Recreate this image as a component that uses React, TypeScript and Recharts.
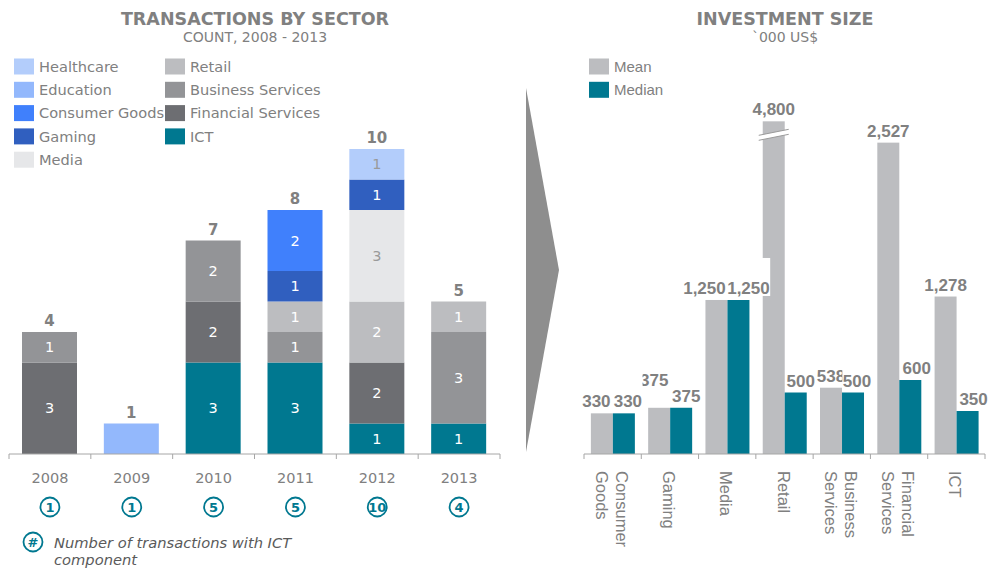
import React from 'react';
import { BarChart, Bar, XAxis, YAxis, LabelList } from 'recharts';

// ---------- LEFT: transactions by sector (count) ----------
const years = ['2008', '2009', '2010', '2011', '2012', '2013'];
const ict = [0, 0, 3, 3, 1, 1];
const financialServices = [3, 0, 2, 0, 2, 0];
const businessServices = [1, 0, 2, 1, 0, 3];
const retail = [0, 0, 0, 1, 2, 1];
const media = [0, 0, 0, 0, 3, 0];
const gaming = [0, 0, 0, 1, 1, 0];
const consumerGoods = [0, 0, 0, 2, 0, 0];
const education = [0, 1, 0, 0, 0, 0];
const healthcare = [0, 0, 0, 0, 1, 0];
const ictTransactionCounts = [1, 1, 5, 5, 10, 4];

// ---------- RIGHT: investment size ('000 US$) ----------
const sectors = ['Consumer Goods', 'Gaming', 'Media', 'Retail', 'Business Services', 'Financial Services', 'ICT'];
const meanSize = [330, 375, 1250, 4800, 538, 2527, 1278];
const medianSize = [330, 375, 1250, 500, 500, 600, 350];
const AXIS_BREAK = 2700; // values above this are drawn with a broken bar

// ---------- styles ----------
const TEAL = '#007890';
const GREY_TEXT = '#808080';
const AXIS = '#a6a6a6';
const VERDANA = '"DejaVu Sans", Verdana, sans-serif';
const ARIAL = '"Liberation Sans", Arial, sans-serif';

type Series = { key: string; name: string; values: number[]; color: string; labelColor: string };
// bottom -> top stacking order
const stackSeries: Series[] = [
  { key: 'ict', name: 'ICT', values: ict, color: '#007890', labelColor: '#ffffff' },
  { key: 'financial', name: 'Financial Services', values: financialServices, color: '#6d6e72', labelColor: '#ffffff' },
  { key: 'business', name: 'Business Services', values: businessServices, color: '#939497', labelColor: '#ffffff' },
  { key: 'retail', name: 'Retail', values: retail, color: '#bcbdc0', labelColor: '#ffffff' },
  { key: 'media', name: 'Media', values: media, color: '#e6e7e9', labelColor: '#9a9a9a' },
  { key: 'gaming', name: 'Gaming', values: gaming, color: '#305fbf', labelColor: '#ffffff' },
  { key: 'consumer', name: 'Consumer Goods', values: consumerGoods, color: '#4080fc', labelColor: '#ffffff' },
  { key: 'education', name: 'Education', values: education, color: '#93b8fc', labelColor: '#ffffff' },
  { key: 'healthcare', name: 'Healthcare', values: healthcare, color: '#b3cdfb', labelColor: '#9a9a9a' },
];

const leftLegendCol1 = ['Healthcare', 'Education', 'Consumer Goods', 'Gaming', 'Media'];
const leftLegendCol2 = ['Retail', 'Business Services', 'Financial Services', 'ICT'];

const leftRows = years.map((year, i) => {
  const row: Record<string, any> = { year };
  stackSeries.forEach((s) => (row[s.key] = s.values[i]));
  return row;
});
const totals = years.map((_, i) => stackSeries.reduce((a, s) => a + s.values[i], 0));
const topSeriesIndex = years.map((_, i) => {
  let top = -1;
  stackSeries.forEach((s, k) => {
    if (s.values[i] > 0) top = k;
  });
  return top;
});

const rightRows = sectors.map((sector, i) => ({ sector, mean: meanSize[i], median: medianSize[i] }));

// layout
const L = { left: 0, width: 510, height: 568, mTop: 149, mLeft: 9, mRight: 10, mBottom: 14, axisH: 100 };
const L_PLOT_W = L.width - L.mLeft - L.mRight;
const R = { left: 570, width: 425, height: 568, mTop: 109, mLeft: 14, mRight: 10, mBottom: 14, axisH: 100 };
const R_PLOT_W = R.width - R.mLeft - R.mRight;

const boxOf = (p: any) => {
  const vb = p.viewBox || {};
  return {
    x: Number(p.x ?? vb.x),
    y: Number(p.y ?? vb.y),
    width: Number(p.width ?? vb.width),
    height: Number(p.height ?? vb.height),
  };
};

// category index from the bar's horizontal position (through the band scale)
const catIndex = (cx: number, left: number, plotW: number, n: number) =>
  Math.max(0, Math.min(n - 1, Math.floor((cx - left) / (plotW / n))));

const makeSegmentLabel = (seriesIdx: number) => (props: any) => {
  const { x, y, width, height } = boxOf(props);
  const cx = x + width / 2;
  const index = catIndex(cx, L.mLeft, L_PLOT_W, years.length);
  const s = stackSeries[seriesIdx];
  const v = s.values[index];
  if (!v) return null;
  const showInner = v !== totals[index];
  const isTop = topSeriesIndex[index] === seriesIdx;
  return (
    <g>
      {showInner && (
        <text x={cx} y={y + height / 2} dy="0.36em" textAnchor="middle" fontFamily={VERDANA} fontSize={14.5} fill={s.labelColor}>
          {v}
        </text>
      )}
      {isTop && (
        <text x={cx} y={y - 11} dy="0.36em" textAnchor="middle" fontFamily={VERDANA} fontWeight="bold" fontSize={15} fill={GREY_TEXT}>
          {totals[index]}
        </text>
      )}
    </g>
  );
};

const YearTick = (props: any) => {
  const { x, y, payload } = props;
  const i = years.indexOf(payload.value);
  const band = L_PLOT_W / years.length;
  return (
    <g>
      <line x1={x - band / 2} x2={x - band / 2} y1={y} y2={y + 5} stroke={AXIS} />
      {i === years.length - 1 && <line x1={x + band / 2} x2={x + band / 2} y1={y} y2={y + 5} stroke={AXIS} />}
      <text x={x} y={y + 24} dy="0.36em" textAnchor="middle" fontFamily={VERDANA} fontSize={14.5} fill={GREY_TEXT}>
        {payload.value}
      </text>
      <circle cx={x} cy={y + 53} r={9.5} fill="#fff" stroke={TEAL} strokeWidth={1.8} />
      <text x={x} y={y + 53} dy="0.36em" textAnchor="middle" fontFamily={VERDANA} fontWeight="bold" fontSize={13} fill={TEAL}>
        {ictTransactionCounts[i]}
      </text>
    </g>
  );
};

const SectorTick = (props: any) => {
  const { x, y, payload } = props;
  const i = sectors.indexOf(payload.value);
  const band = R_PLOT_W / sectors.length;
  const lines = String(payload.value).split(' ');
  const fs = 16.5;
  return (
    <g>
      <line x1={x - band / 2} x2={x - band / 2} y1={y} y2={y + 5} stroke={AXIS} />
      {i === sectors.length - 1 && <line x1={x + band / 2} x2={x + band / 2} y1={y} y2={y + 5} stroke={AXIS} />}
      <g transform={`translate(${x - 1},${y + 17}) rotate(90)`}>
        {lines.map((ln, k) => {
          const c = ((lines.length - 1) / 2 - k) * 20; // screen x offset of line centre
          return (
            <text key={k} x={0} y={fs * 0.36 - c} textAnchor="start" fontFamily={ARIAL} fontSize={fs} fill={GREY_TEXT}>
              {ln}
            </text>
          );
        })}
      </g>
    </g>
  );
};

const MeanShape = (props: any) => {
  const { x, y, width, height, fill } = props;
  const index = catIndex(x + width / 2, R.mLeft, R_PLOT_W, sectors.length);
  const actual = meanSize[index];
  const broken = actual > AXIS_BREAK;
  return (
    <g>
      <rect x={x} y={y} width={width} height={height} fill={fill} />
      {broken && (
        <g>
          <polygon
            points={`${x - 4},${y + 14} ${x + width + 4},${y + 8} ${x + width + 4},${y + 13} ${x - 4},${y + 19}`}
            fill="#fff"
          />
          <line x1={x - 4} y1={y + 14} x2={x + width + 4} y2={y + 8} stroke="#9a9a9a" strokeWidth={1} />
          <line x1={x - 4} y1={y + 19} x2={x + width + 4} y2={y + 13} stroke="#9a9a9a" strokeWidth={1} />
        </g>
      )}
    </g>
  );
};

const meanNudge: Record<number, { dx: number; dy: number }> = {
  0: { dx: -5.5, dy: 0 },
  1: { dx: -5, dy: -16 },
  2: { dx: -12, dy: 0 },
};
const medianNudge: Record<number, { dx: number; dy: number }> = {
  0: { dx: 4, dy: 0 },
  1: { dx: 5, dy: 0 },
  2: { dx: 10, dy: 0 },
  3: { dx: 5, dy: 0 },
  4: { dx: 4, dy: 0 },
  5: { dx: 6.5, dy: 0 },
  6: { dx: 6, dy: 0 },
};

const makeValueLabel = (values: number[], nudges: Record<number, { dx: number; dy: number }>, boxed: boolean) => (props: any) => {
  const { x, y, width } = boxOf(props);
  const index = catIndex(x + width / 2, R.mLeft, R_PLOT_W, sectors.length);
  const v = values[index];
  const n = nudges[index] || { dx: 0, dy: 0 };
  const cx = x + width / 2 + n.dx;
  const cy = y - 12 + n.dy;
  const txt = v.toLocaleString('en-US');
  const digits = txt.replace(/,/g, '').length;
  const commas = txt.length - digits;
  const w = digits * 9.45 + commas * 4.7 + 1;
  return (
    <g>
      {boxed && <rect x={cx - w / 2} y={cy - 30} width={w} height={38} fill="#fff" />}
      <text x={cx} y={cy} dy="0.36em" textAnchor="middle" fontFamily={ARIAL} fontWeight="bold" fontSize={17} fill={GREY_TEXT}>
        {txt}
      </text>
    </g>
  );
};

const colorOf = (name: string) => stackSeries.find((s) => s.name === name)!.color;

export default function App() {
  return (
    <div style={{ position: 'absolute', left: 0, top: 0, width: 995, height: 568, background: '#fff', overflow: 'hidden' }}>
      {/* decorations: titles, legends, arrow, footnote */}
      <svg width={995} height={568} style={{ position: 'absolute', left: 0, top: 0 }}>
        <text x={255} y={25} textAnchor="middle" fontFamily={VERDANA} fontWeight="bold" fontSize={17.5} fill={GREY_TEXT}>
          TRANSACTIONS BY SECTOR
        </text>
        <text x={255} y={42} textAnchor="middle" fontFamily={VERDANA} fontSize={14} fill={GREY_TEXT}>
          COUNT, 2008 - 2013
        </text>
        <text x={785} y={25} textAnchor="middle" fontFamily={VERDANA} fontWeight="bold" fontSize={17.5} fill={GREY_TEXT}>
          INVESTMENT SIZE
        </text>
        <text x={785} y={42} textAnchor="middle" fontFamily={VERDANA} fontSize={14} fill={GREY_TEXT}>
          `000 US$
        </text>

        {leftLegendCol1.map((name, k) => (
          <g key={name}>
            <rect x={14} y={58.5 + k * 23.3} width={20} height={16} fill={colorOf(name)} />
            <text x={39} y={66.5 + k * 23.3} dy="0.36em" fontFamily={VERDANA} fontSize={14.6} fill={GREY_TEXT}>
              {name}
            </text>
          </g>
        ))}
        {leftLegendCol2.map((name, k) => (
          <g key={name}>
            <rect x={165} y={58.5 + k * 23.3} width={20} height={16} fill={colorOf(name)} />
            <text x={190} y={66.5 + k * 23.3} dy="0.36em" fontFamily={VERDANA} fontSize={14.6} fill={GREY_TEXT}>
              {name}
            </text>
          </g>
        ))}

        <rect x={589} y={58.5} width={20} height={16} fill="#bcbdc0" />
        <text x={614} y={66.5} dy="0.36em" fontFamily={ARIAL} fontSize={15} fill={GREY_TEXT}>
          Mean
        </text>
        <rect x={589} y={81.8} width={20} height={16} fill={TEAL} />
        <text x={614} y={89.8} dy="0.36em" fontFamily={ARIAL} fontSize={15} fill={GREY_TEXT}>
          Median
        </text>

        <polygon points="526,88 559,270 526,452" fill="#8e8e8e" />

        <circle cx={33} cy={542} r={9.5} fill="#fff" stroke={TEAL} strokeWidth={1.8} />
        <text x={33} y={542} dy="0.36em" textAnchor="middle" fontFamily={VERDANA} fontWeight="bold" fontSize={13} fill={TEAL}>
          #
        </text>
        <text x={54} y={548} fontFamily={VERDANA} fontStyle="italic" fontSize={14.7} fill="#5a5a5a">
          Number of transactions with ICT
        </text>
        <text x={54} y={565} fontFamily={VERDANA} fontStyle="italic" fontSize={14.7} fill="#5a5a5a">
          component
        </text>
      </svg>

      {/* left chart */}
      <div style={{ position: 'absolute', left: L.left, top: 0 }}>
        <BarChart
          width={L.width}
          height={L.height}
          data={leftRows}
          margin={{ top: L.mTop, left: L.mLeft, right: L.mRight, bottom: L.mBottom }}
          barSize={55}
        >
          <XAxis
            dataKey="year"
            height={L.axisH}
            axisLine={{ stroke: AXIS }}
            tickLine={false}
            tickSize={0}
            tickMargin={0}
            interval={0}
            tick={<YearTick />}
          />
          <YAxis hide domain={[0, 10]} />
          {stackSeries.map((s, k) => (
            <Bar key={s.key} dataKey={s.key} name={s.name} stackId="a" fill={s.color} isAnimationActive={false}>
              <LabelList dataKey={s.key} content={makeSegmentLabel(k)} />
            </Bar>
          ))}
        </BarChart>
      </div>

      {/* right chart */}
      <div style={{ position: 'absolute', left: R.left, top: 0 }}>
        <BarChart
          width={R.width}
          height={R.height}
          data={rightRows}
          margin={{ top: R.mTop, left: R.mLeft, right: R.mRight, bottom: R.mBottom }}
          barCategoryGap="12%"
          barGap={0}
        >
          <XAxis
            dataKey="sector"
            height={R.axisH}
            axisLine={{ stroke: AXIS }}
            tickLine={false}
            tickSize={0}
            tickMargin={0}
            interval={0}
            tick={<SectorTick />}
          />
          <YAxis hide domain={[0, 2800]} />
          <Bar
            dataKey={(d: any) => Math.min(d.mean, AXIS_BREAK)}
            name="Mean"
            fill="#bcbdc0"
            shape={<MeanShape />}
            isAnimationActive={false}
          >
            <LabelList dataKey="mean" content={makeValueLabel(meanSize, meanNudge, false)} />
          </Bar>
          <Bar dataKey="median" name="Median" fill={TEAL} isAnimationActive={false}>
            <LabelList dataKey="median" content={makeValueLabel(medianSize, medianNudge, true)} />
          </Bar>
        </BarChart>
      </div>
    </div>
  );
}
